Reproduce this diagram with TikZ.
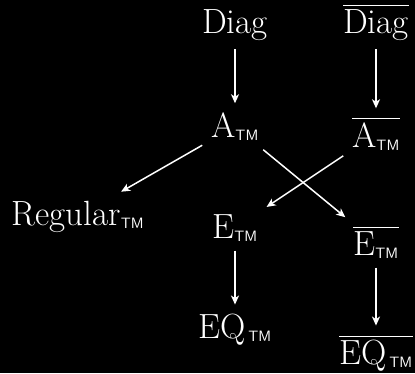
\documentclass[tikz,border=0pt]{standalone}
\usepackage{amsmath}
\usetikzlibrary{arrows.meta, positioning}

\newcommand{\tm}{\ensuremath{_{\text{\fontsize{15}{15}\selectfont\sffamily TM}}}}
\newcommand{\compl}[1]{\ensuremath{\overline{\text{#1}}}}

\begin{document}
\begin{tikzpicture}[
    x=1pt, y=-1pt,
    lang/.style={text=white, font=\fontsize{35}{42}\selectfont, anchor=base, inner sep=0pt, outer sep=9pt},
    arrow/.style={-{Stealth[length=9pt, width=8pt, inset=2.5pt]}, white, line width=1.5pt},
]
\fill[black] (0,0) rectangle (415,373);
\useasboundingbox (0,0) rectangle (415,373);

% Top row
\node[lang] (diag) at (235, 33) {Diag};
\node[lang] (codiag) at (376, 33) {\compl{Diag}};

% Acceptance
\node[lang] (atm) at (235, 137) {A\tm};
\node[lang] (coatm) at (376, 147) {\compl{A\tm}};

% Reductions
\node[lang] (regtm) at (78, 225) {Regular\tm};
\node[lang] (etm) at (235, 238) {E\tm};
\node[lang] (coetm) at (376, 255) {\compl{E\tm}};
\node[lang] (eqtm) at (235, 338) {EQ\kern3pt\tm};
\node[lang] (coeqtm) at (376, 364) {\compl{EQ\kern3pt\tm}};

% Arrows
\draw[arrow] (diag) -- (atm);
\draw[arrow] (codiag) -- (coatm);
\draw[arrow] (atm) -- (regtm);
\draw[arrow] (atm) -- (coetm);
\draw[arrow] (coatm) -- (etm);
\draw[arrow] (etm) -- (eqtm);
\draw[arrow] (coetm) -- (coeqtm);

\end{tikzpicture}
\end{document}
